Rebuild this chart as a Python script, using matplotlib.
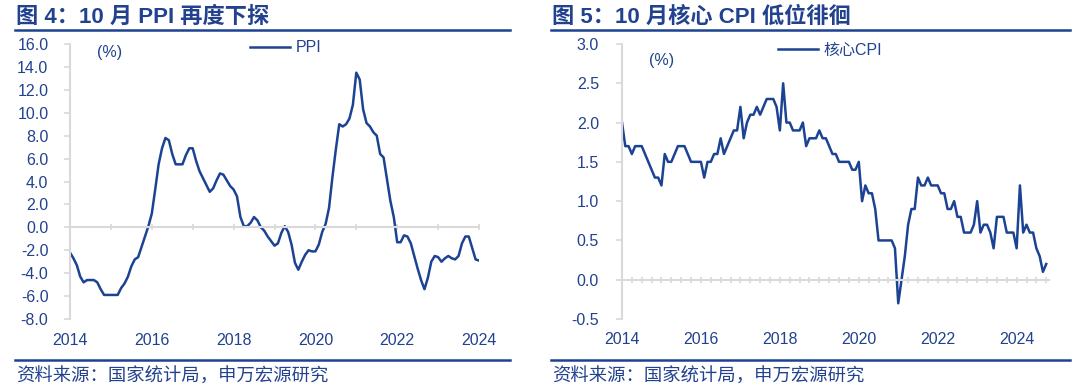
import numpy as np
import matplotlib
matplotlib.use("Agg")
import matplotlib.pyplot as plt
from matplotlib.lines import Line2D
from matplotlib.ticker import MultipleLocator, FixedLocator

plt.rcParams['font.family'] = ['Liberation Sans', 'Noto Sans CJK SC', 'DejaVu Sans']

# PPI yoy (%), monthly, plotted from the "2014" label to the "2024" label
ppi = [-2.2, -2.7, -3.3,
       -4.3, -4.8, -4.6, -4.6, -4.6, -4.8, -5.4, -5.9, -5.9, -5.9, -5.9, -5.9,
       -5.3, -4.9, -4.3, -3.4, -2.8, -2.6, -1.7, -0.8, 0.1, 1.2, 3.3, 5.5,
       6.9, 7.8, 7.6, 6.4, 5.5, 5.5, 5.5, 6.3, 6.9, 6.9, 5.8, 4.9,
       4.3, 3.7, 3.1, 3.4, 4.1, 4.7, 4.6, 4.1, 3.6, 3.3, 2.7, 0.9,
       0.1, 0.1, 0.4, 0.9, 0.6, 0.0, -0.3, -0.8, -1.2, -1.6, -1.4, -0.5,
       0.1, -0.4, -1.5, -3.1, -3.7, -3.0, -2.4, -2.0, -2.1, -2.1, -1.5, -0.4,
       0.3, 1.7, 4.4, 6.8, 9.0, 8.8, 9.0, 9.5, 10.7, 13.5, 12.9, 10.3,
       9.1, 8.8, 8.3, 8.0, 6.4, 6.1, 4.2, 2.3, 0.9, -1.3, -1.3, -0.7,
       -0.8, -1.4, -2.5, -3.6, -4.6, -5.4, -4.4, -3.0, -2.5, -2.6, -3.0, -2.7,
       -2.5, -2.7, -2.8, -2.5, -1.4, -0.8, -0.8, -1.8, -2.8, -2.9]

# core CPI yoy (%), Jan 2014 - Oct 2024
core_cpi = [2.0, 1.7, 1.7, 1.6, 1.7, 1.7, 1.7, 1.6, 1.5, 1.4, 1.3, 1.3,
            1.2, 1.6, 1.5, 1.5, 1.6, 1.7, 1.7, 1.7, 1.6, 1.5, 1.5, 1.5,
            1.5, 1.3, 1.5, 1.5, 1.6, 1.6, 1.8, 1.6, 1.7, 1.8, 1.9, 1.9,
            2.2, 1.8, 2.0, 2.1, 2.1, 2.2, 2.1, 2.2, 2.3, 2.3, 2.3, 2.2,
            1.9, 2.5, 2.0, 2.0, 1.9, 1.9, 1.9, 2.0, 1.7, 1.8, 1.8, 1.8,
            1.9, 1.8, 1.8, 1.7, 1.6, 1.6, 1.5, 1.5, 1.5, 1.5, 1.4, 1.4,
            1.5, 1.0, 1.2, 1.1, 1.1, 0.9, 0.5, 0.5, 0.5, 0.5, 0.5, 0.4,
            -0.3, 0.0, 0.3, 0.7, 0.9, 0.9, 1.3, 1.2, 1.2, 1.3, 1.2, 1.2,
            1.2, 1.1, 1.1, 0.9, 0.9, 1.0, 0.8, 0.8, 0.6, 0.6, 0.6, 0.7,
            1.0, 0.6, 0.7, 0.7, 0.6, 0.4, 0.8, 0.8, 0.8, 0.6, 0.6, 0.6,
            0.4, 1.2, 0.6, 0.7, 0.6, 0.6, 0.4, 0.3, 0.1, 0.2]

x_ppi = 2014 + np.arange(len(ppi)) / 12
x_cpi = 2014 + np.arange(len(core_cpi)) / 12
year_labels = [2014, 2016, 2018, 2020, 2022, 2024]

NAVY = '#1c4393'
TXT = '#22428f'
GRAY = '#d9d9d9'
W, H = 1080, 389

fig = plt.figure(figsize=(W / 100, H / 100), dpi=100)


def fx(px):
    return px / W


def fy(py):
    return 1 - py / H


def panel(left, right, title):
    fig.text(fx(left + 1), fy(17), title, fontsize=16, fontweight='bold',
             color=TXT, va='center', ha='left')
    fig.add_artist(Line2D([fx(left), fx(right)], [fy(30), fy(30)], color=NAVY, lw=1.8))
    fig.add_artist(Line2D([fx(left), fx(right)], [fy(360), fy(360)], color=NAVY, lw=1.8))
    fig.text(fx(left + 1), fy(377), '资料来源：国家统计局，申万宏源研究', fontsize=13.2,
             color=TXT, va='center', ha='left')


def style(ax, zero_px, ypad):
    for s in ['top', 'right']:
        ax.spines[s].set_visible(False)
    ax.spines['left'].set_color(GRAY)
    ax.spines['left'].set_linewidth(1.5)
    ax.spines['bottom'].set_position(('data', 0))
    ax.spines['bottom'].set_color(GRAY)
    ax.spines['bottom'].set_linewidth(1.5)
    ax.tick_params(axis='y', direction='out', length=4, color=GRAY, width=1.2,
                   labelcolor=TXT, labelsize=11.5, pad=ypad)
    xpad = (331 - zero_px - 2) * 72 / 100
    ax.tick_params(axis='x', which='both', direction='inout', length=5, color=GRAY,
                   width=1.2, labelcolor=TXT, labelsize=11.5, pad=xpad)
    ax.set_xticks(year_labels)
    ax.set_xticklabels([str(y) for y in year_labels])


# ---- left: PPI
ax1 = fig.add_axes([fx(70), 70 / H, fx(409), 275 / H])
ax1.plot(x_ppi, ppi, color=NAVY, lw=1.8, label='PPI')
ax1.set_xlim(2014, 2024)
ax1.set_ylim(-8, 16)
ax1.set_yticks(np.arange(-8, 16.1, 2))
ax1.set_yticklabels([f'{v:.1f}' for v in np.arange(-8, 16.1, 2)])
ax1.xaxis.set_minor_locator(FixedLocator([2015, 2017, 2019, 2021, 2023]))
style(ax1, 227.2, 11.5)
ax1.tick_params(axis='x', which='minor', length=5)
fig.text(fx(97), fy(53), '(%)', fontsize=11.5, color=TXT, va='center')
ax1.legend(loc='center left', bbox_to_anchor=(fx(250), fy(48)), bbox_transform=fig.transFigure,
           frameon=False, fontsize=11.5, handlelength=2.5, handletextpad=0.35,
           borderpad=0, borderaxespad=0, labelcolor=TXT)
panel(15, 510, '图 4：10 月 PPI 再度下探')

# ---- right: core CPI
ax2 = fig.add_axes([fx(622), 70 / H, fx(427), 275 / H])
ax2.plot(x_cpi, core_cpi, color=NAVY, lw=1.8, label='核心CPI')
ax2.set_xlim(2014, 2024.82)
ax2.set_ylim(-0.5, 3.0)
ax2.set_yticks(np.arange(-0.5, 3.01, 0.5))
ax2.set_yticklabels([f'{v:.1f}' for v in np.arange(-0.5, 3.01, 0.5)])
ax2.xaxis.set_minor_locator(MultipleLocator(0.25))
style(ax2, 279.8, 12.5)
ax2.tick_params(axis='x', which='minor', length=4)
fig.text(fx(649), fy(60), '(%)', fontsize=11.5, color=TXT, va='center')
ax2.legend(loc='center left', bbox_to_anchor=(fx(778), fy(50)), bbox_transform=fig.transFigure,
           frameon=False, fontsize=11.5, handlelength=2.5, handletextpad=0.35,
           borderpad=0, borderaxespad=0, labelcolor=TXT)
panel(551, 1070, '图 5：10 月核心 CPI 低位徘徊')

fig.savefig('out.png', dpi=100)
